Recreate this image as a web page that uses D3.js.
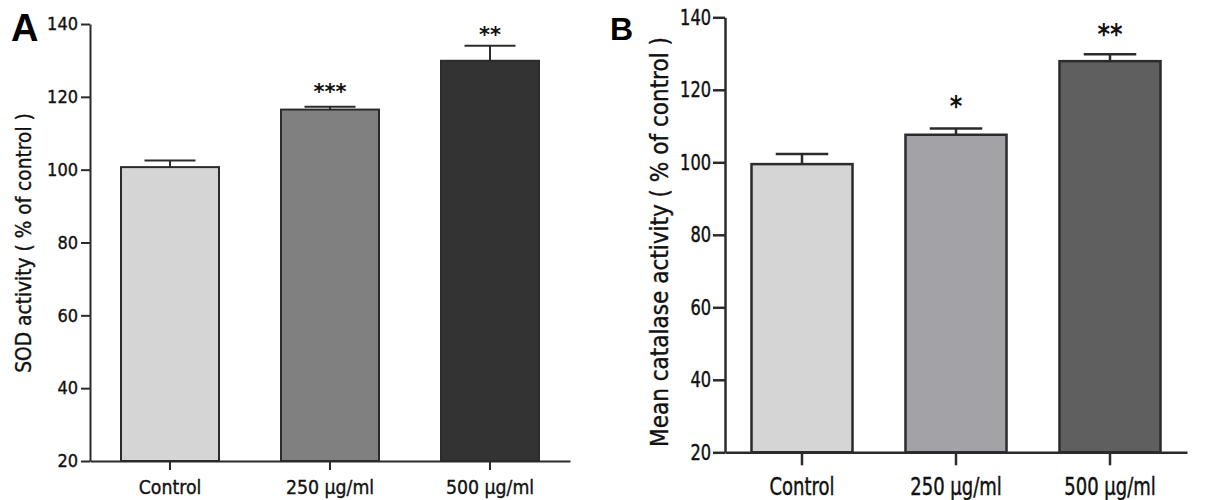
<!DOCTYPE html>
<html>
<head>
<meta charset="utf-8">
<script src="https://cdn.jsdelivr.net/npm/d3@7"></script>
<style>
  html, body { margin: 0; padding: 0; background: #fff; }
  svg { display: block; }
  .t { font-family: "DejaVu Sans Condensed", "DejaVu Sans", sans-serif; font-stretch: condensed; fill: #111; stroke: #111; stroke-width: 0.35px; }
</style>
</head>
<body>
<svg id="chart" width="1207" height="500"></svg>
<script>
// ---- data ----
const categories = ["Control", "250 µg/ml", "500 µg/ml"];
const yTicks = [20, 40, 60, 80, 100, 120, 140];

const sodMean = [100.7, 116.5, 129.9];
const sodErr = [1.8, 0.8, 4.1];
const sodStars = ["", "***", "**"];
const sodStarLevel = [null, 122.7, 138.1];
const sodColors = ["#d5d5d5", "#808080", "#333333"];

const catMean = [99.5, 107.6, 127.9];
const catErr = [2.8, 1.7, 1.9];
const catStars = ["", "*", "**"];
const catStarLevel = [null, 117.2, 137.0];
const catColors = ["#d5d5d5", "#a3a2a6", "#5f5f5f"];

const svg = d3.select("#chart");
svg.append("rect").attr("width", 1207).attr("height", 500).attr("fill", "#fff");

function panel(o) {
  const g = svg.append("g");
  const x = d3.scaleBand().domain(categories).range(o.xRange)
    .paddingInner(o.pad).paddingOuter(o.pad / 2);
  const y = d3.scaleLinear().domain([20, 140]).range(o.yRange);
  const sy = o.stretch;

  // bars
  const rows = categories.map((c, i) => ({c, m: o.mean[i], e: o.err[i], s: o.stars[i], sl: o.starLevel[i], col: o.colors[i]}));
  g.selectAll("rect.bar").data(rows).join("rect")
    .attr("x", d => x(d.c)).attr("y", d => y(d.m))
    .attr("width", x.bandwidth()).attr("height", d => y(20) - y(d.m))
    .attr("fill", d => d.col).attr("stroke", "#2b2b2b").attr("stroke-width", o.sw);

  // error bars
  const cw = x.bandwidth() * 0.26;
  rows.forEach(d => {
    const cx = x(d.c) + x.bandwidth() / 2;
    g.append("line").attr("x1", cx).attr("x2", cx).attr("y1", y(d.m)).attr("y2", y(d.m + d.e))
      .attr("stroke", "#2b2b2b").attr("stroke-width", o.sw);
    g.append("line").attr("x1", cx - cw).attr("x2", cx + cw).attr("y1", y(d.m + d.e)).attr("y2", y(d.m + d.e))
      .attr("stroke", "#2b2b2b").attr("stroke-width", o.sw);
    if (d.s) {
      g.append("text")
        .attr("transform", `translate(${cx},${y(d.sl)}) scale(1,${sy})`)
        .attr("y", o.starFs * 0.55)
        .attr("text-anchor", "middle")
        .attr("font-family", "'DejaVu Sans', sans-serif").attr("fill", "#111")
        .attr("font-weight", "bold").attr("font-size", o.starFs).text(d.s);
    }
  });

  // y axis
  const ya = g.append("g").attr("transform", `translate(${o.xRange[0]},0)`)
    .call(d3.axisLeft(y).tickValues(yTicks).tickSize(o.yTick).tickPadding(o.yPad).tickSizeOuter(0));
  ya.selectAll("text").attr("class", "t").attr("font-size", o.tickFs)
    .attr("transform", `scale(1,${sy})`);
  // x axis
  const xa = g.append("g").attr("transform", `translate(0,${o.yRange[0]})`)
    .call(d3.axisBottom(x).tickSize(o.xTick).tickSizeOuter(0));
  xa.selectAll("text").attr("class", "t").attr("font-size", o.xFs)
    .attr("dy", null).attr("y", o.xBase / sy).attr("transform", `scale(1,${sy})`);
  [ya, xa].forEach(a => {
    a.select(".domain").attr("stroke", "#2b2b2b").attr("stroke-width", o.sw);
    a.selectAll(".tick line").attr("stroke", "#2b2b2b").attr("stroke-width", o.sw);
  });

  // y label
  g.append("text").attr("class", "t")
    .attr("transform", `translate(${o.labX},${o.labY}) rotate(-90)`)
    .attr("text-anchor", "middle").attr("font-size", o.labFs).text(o.label);

  // panel letter
  g.append("text").attr("x", o.letX).attr("y", o.letY)
    .attr("font-family", "'Liberation Sans', Arial, sans-serif").attr("font-weight", "bold")
    .attr("font-size", o.letFs).attr("fill", "#000").text(o.letter);
}

panel({
  xRange: [90, 570], yRange: [461, 24], pad: 0.3875, sw: 2, stretch: 1,
  mean: sodMean, err: sodErr, stars: sodStars, starLevel: sodStarLevel, colors: sodColors,
  starFs: 21, yTick: 9, yPad: 3, tickFs: 18, xTick: 9, xFs: 19.3, xBase: 33,
  label: "SOD activity ( % of control )", labX: 31, labY: 243, labFs: 20.7,
  letter: "A", letX: 11, letY: 41, letFs: 38
});

panel({
  xRange: [725, 1187], yRange: [452.3, 17.3], pad: 0.344, sw: 2.5, stretch: 1.2,
  mean: catMean, err: catErr, stars: catStars, starLevel: catStarLevel, colors: catColors,
  starFs: 24, yTick: 12, yPad: 2, tickFs: 18, xTick: 13, xFs: 20, xBase: 42.7,
  label: "Mean catalase activity ( % of control )", labX: 668, labY: 242, labFs: 24,
  letter: "B", letX: 610, letY: 40, letFs: 32
});
</script>
</body>
</html>
